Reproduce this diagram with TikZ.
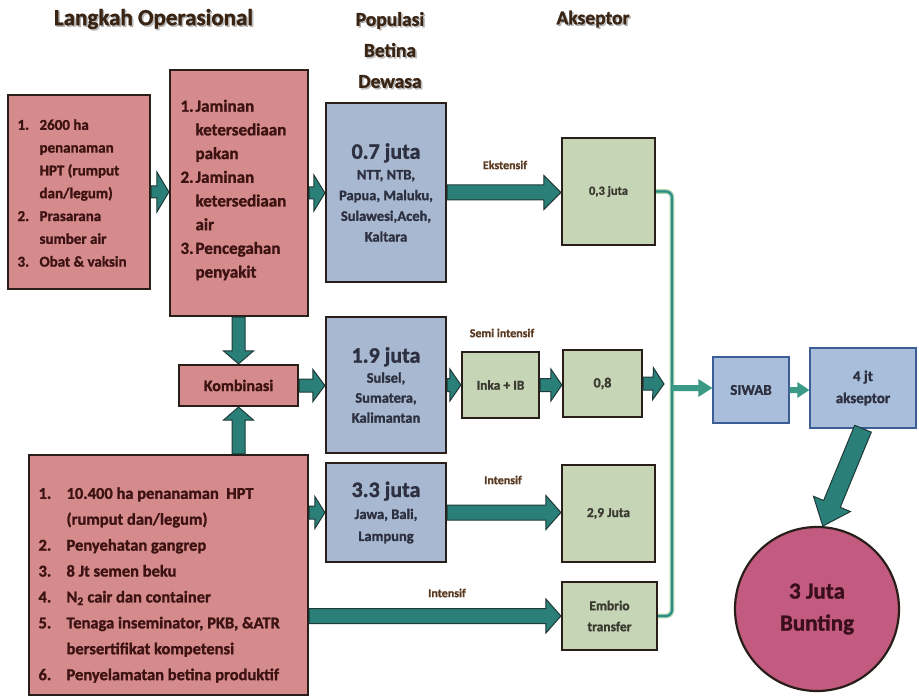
\documentclass[tikz,border=0pt]{standalone}
\usepackage{fontspec}
\setmainfont{Carlito}[BoldFeatures={FakeBold=1.3}]
\usetikzlibrary{calc}

\definecolor{pinkfill}{HTML}{D58B8B}
\definecolor{bluefill}{HTML}{A7B8D0}
\definecolor{greenfill}{HTML}{C5D5B5}
\definecolor{siwabfill}{HTML}{A9BEDB}
\definecolor{siwabline}{HTML}{3B5E96}
\definecolor{bunfill}{HTML}{C25B7F}
\definecolor{tealarr}{HTML}{2A7F78}
\definecolor{tealdark}{HTML}{1E3A38}
\definecolor{greenarr}{HTML}{3A9A86}
\definecolor{busline}{HTML}{2C8C8C}
\definecolor{busedge}{HTML}{A8D4A8}
\definecolor{boxline}{HTML}{2A1E1A}
\definecolor{headtxt}{HTML}{3A2515}
\definecolor{pinktxt}{HTML}{3D1212}
\definecolor{bluetxt}{HTML}{2D3040}
\definecolor{greentxt}{HTML}{3A3A30}
\definecolor{labtxt}{HTML}{5A3A20}
\definecolor{buntxt}{HTML}{3A0E1C}

% block arrow: [style] {start} {end} {shaft half width} {head half width} {head length}
\newcommand\fatarrow[6][]{%
  \coordinate (fa-s) at (#2);
  \coordinate (fa-e) at (#3);
  \coordinate (fa-h) at ($(fa-e)!#6!(fa-s)$);
  \filldraw[fatarr,#1] ($(fa-s)!#4!90:(fa-e)$) -- ($(fa-h)!#4!-90:(fa-s)$)
    -- ($(fa-h)!#5!-90:(fa-s)$) -- (fa-e) -- ($(fa-h)!#5!90:(fa-s)$)
    -- ($(fa-h)!#4!90:(fa-s)$) -- ($(fa-s)!#4!-90:(fa-e)$) -- cycle;
}

\tikzset{
  basebox/.style={draw=boxline, line width=2.2pt, inner sep=0pt, font=\bfseries},
  pinkbox/.style={basebox, fill=pinkfill, text=pinktxt},
  bluebox/.style={basebox, fill=bluefill, text=bluetxt, align=center},
  greenbox/.style={basebox, fill=greenfill, text=greentxt, align=center},
  siwabbox/.style={draw=siwabline, line width=1.4pt, fill=siwabfill, inner sep=0pt,
    text=bluetxt, align=center, font=\bfseries\fontsize{15}{22}\selectfont},
  fatarr/.style={fill=tealarr, draw=tealdark, line width=1pt, line join=miter},
  thinarr/.style={fill=greenarr, draw=none},
  heading/.style={text=headtxt, align=center},
  headshadow/.style={text=black, opacity=0.25, align=center},
  flowlabel/.style={text=labtxt, font=\bfseries\fontsize{12}{14}\selectfont},
  bus/.style={line width=3.2pt, rounded corners=6pt},
}

\begin{document}
\begin{tikzpicture}[x=1pt,y=-1pt]
\useasboundingbox[fill=white] (0,0) rectangle (919,698);

% column headings, each with a soft drop shadow
\node[headshadow, font=\bfseries\fontsize{23}{26}\selectfont] (h1s) at (155,20.5) {Langkah Operasional};
\node[headshadow, font=\bfseries\fontsize{19.5}{31}\selectfont] (h2s) at (391.5,51.5) {Populasi\\Betina\\Dewasa};
\node[headshadow, font=\bfseries\fontsize{19.5}{26}\selectfont] (h3s) at (594.5,20.5) {Akseptor};
\node[heading, font=\bfseries\fontsize{23}{26}\selectfont] (h1) at (153.5,19) {Langkah Operasional};
\node[heading, font=\bfseries\fontsize{19.5}{31}\selectfont] (h2) at (390,50) {Populasi\\Betina\\Dewasa};
\node[heading, font=\bfseries\fontsize{19.5}{26}\selectfont] (h3) at (593,19) {Akseptor};

% operational steps
\node[pinkbox, minimum width=142, minimum height=194] (A) at (79,192) {};
\node[anchor=west, text=pinktxt, align=left, font=\bfseries\fontsize{15}{22.8}\selectfont] (Atxt) at (14,193)
 {\makebox[22pt][l]{1.}2600 ha\\
  \makebox[22pt][l]{}penanaman\\
  \makebox[22pt][l]{}HPT (rumput\\
  \makebox[22pt][l]{}dan/legum)\\
  \makebox[22pt][l]{2.}Prasarana\\
  \makebox[22pt][l]{}sumber air\\
  \makebox[22pt][l]{3.}Obat \& vaksin};

\node[pinkbox, minimum width=138, minimum height=246] (B) at (239,193) {};
\node[anchor=west, text=pinktxt, align=left, font=\bfseries\fontsize{17}{23.7}\selectfont] (Btxt) at (177,190)
 {\makebox[15pt][l]{1.}Jaminan\\
  \makebox[15pt][l]{}ketersediaan\\
  \makebox[15pt][l]{}pakan\\
  \makebox[15pt][l]{2.}Jaminan\\
  \makebox[15pt][l]{}ketersediaan\\
  \makebox[15pt][l]{}air\\
  \makebox[15pt][l]{3.}Pencegahan\\
  \makebox[15pt][l]{}penyakit};

\node[pinkbox, minimum width=119, minimum height=41, font=\bfseries\fontsize{16}{20}\selectfont] (komb) at (238.5,385.5) {Kombinasi};

\node[pinkbox, minimum width=279, minimum height=240] (bot) at (168.5,575) {};
\node[anchor=west, text=pinktxt, align=left, font=\bfseries\fontsize{16.5}{25.9}\selectfont] (bottxt) at (35,585)
 {\makebox[28pt][l]{1.}10.400 ha penanaman\ \ HPT\\
  \makebox[28pt][l]{}(rumput dan/legum)\\
  \makebox[28pt][l]{2.}Penyehatan gangrep\\
  \makebox[28pt][l]{3.}8 Jt semen beku\\
  \makebox[28pt][l]{4.}N\textsubscript{2} cair dan container\\
  \makebox[28pt][l]{5.}Tenaga inseminator, PKB, \&ATR\\
  \makebox[28pt][l]{}bersertifikat kompetensi\\
  \makebox[28pt][l]{6.}Penyelamatan betina produktif};

% adult female population
\node[bluebox, minimum width=120, minimum height=179, font=\bfseries\fontsize{14.5}{20.7}\selectfont] (b1) at (386,192.5)
 {{\fontsize{22}{24}\selectfont 0.7 juta}\\NTT, NTB,\\Papua, Maluku,\\Sulawesi,Aceh,\\Kaltara};
\node[bluebox, minimum width=120, minimum height=136, font=\bfseries\fontsize{14.5}{20}\selectfont] (b2) at (386,385)
 {{\fontsize{22}{24}\selectfont 1.9 juta}\\Sulsel,\\Sumatera,\\Kalimantan};
\node[bluebox, minimum width=120, minimum height=99, font=\bfseries\fontsize{14.5}{22}\selectfont] (b3) at (386,512.5)
 {{\fontsize{22}{24}\selectfont 3.3 juta}\\Jawa, Bali,\\Lampung};

% acceptors
\node[greenbox, minimum width=93, minimum height=107, font=\bfseries\fontsize{12.5}{15}\selectfont] (g03) at (608.5,191.5) {0,3 juta};
\node[greenbox, minimum width=77, minimum height=66, font=\bfseries\fontsize{13.5}{16}\selectfont] (inka) at (500.5,385) {Inka + IB};
\node[greenbox, minimum width=79, minimum height=67, font=\bfseries\fontsize{14}{16}\selectfont] (g08) at (602.5,383.5) {0,8};
\node[greenbox, minimum width=93, minimum height=97, font=\bfseries\fontsize{13.5}{16}\selectfont] (g29) at (608.5,513.5) {2,9 Juta};
\node[greenbox, minimum width=95, minimum height=68, font=\bfseries\fontsize{13.5}{21}\selectfont] (emb) at (609.5,616) {Embrio\\transfer};

\node[siwabbox, minimum width=76, minimum height=66] (siwab) at (751,390) {SIWAB};
\node[siwabbox, minimum width=106, minimum height=80] (akc) at (863,388) {4 jt\\akseptor};

\node[circle, draw=boxline, line width=2.2pt, fill=bunfill, minimum size=164, inner sep=0pt,
  text=buntxt, align=center, font=\bfseries\fontsize{23}{32}\selectfont] (bunt) at (817,609) {3 Juta\\Bunting};

% collecting line of all acceptors
\coordinate (busmid) at (672,388);
\coordinate (busin) at (664,384);
\draw[bus, busedge, line width=4.6pt] (g03.east) -- (g03.east -| busmid) -- (emb.east -| busmid) -- (emb.east);
\draw[bus, busline, line width=2.2pt] (g03.east) -- (g03.east -| busmid) -- (emb.east -| busmid) -- (emb.east);

% block arrows
\fatarrow{A.east}{A.east -| B.west}{6pt}{20pt}{12pt}
\fatarrow{B.east}{B.east -| b1.west}{6pt}{18pt}{11pt}
\fatarrow{b1.east}{b1.east -| g03.west}{7.5pt}{17pt}{17pt}
\fatarrow{komb.north |- B.south}{komb.north}{6.5pt}{15pt}{13pt}
\fatarrow{komb.south |- bot.north}{komb.south}{6.5pt}{15pt}{13pt}
\fatarrow{komb.east}{komb.east -| b2.west}{6.5pt}{16pt}{12pt}
\fatarrow{b2.east}{b2.east -| inka.west}{6.5pt}{16pt}{11pt}
\fatarrow{inka.east}{inka.east -| g08.west}{6.5pt}{16pt}{11pt}
\fatarrow{g08.east}{busin}{6.5pt}{16pt}{11pt}
\fatarrow{bot.east |- b3.west}{b3.west}{6.5pt}{16pt}{10pt}
\fatarrow{b3.east}{b3.east -| g29.west}{7.5pt}{17pt}{15pt}
\fatarrow{bot.east |- emb.west}{emb.west}{7.5pt}{17pt}{15pt}
\fatarrow[thinarr]{busmid}{busmid -| siwab.west}{3pt}{9pt}{14pt}
\fatarrow[thinarr]{siwab.east}{siwab.east -| akc.west}{3pt}{8pt}{12pt}
\fatarrow{akc.south}{bunt.86}{9pt}{20pt}{24pt}

% flow labels
\node[flowlabel] (lekst) at (505,165) {Ekstensif};
\node[flowlabel] (lsemi) at (502,333) {Semi intensif};
\node[flowlabel] (lint1) at (503,480) {Intensif};
\node[flowlabel] (lint2) at (447,593) {Intensif};
\end{tikzpicture}
\end{document}
